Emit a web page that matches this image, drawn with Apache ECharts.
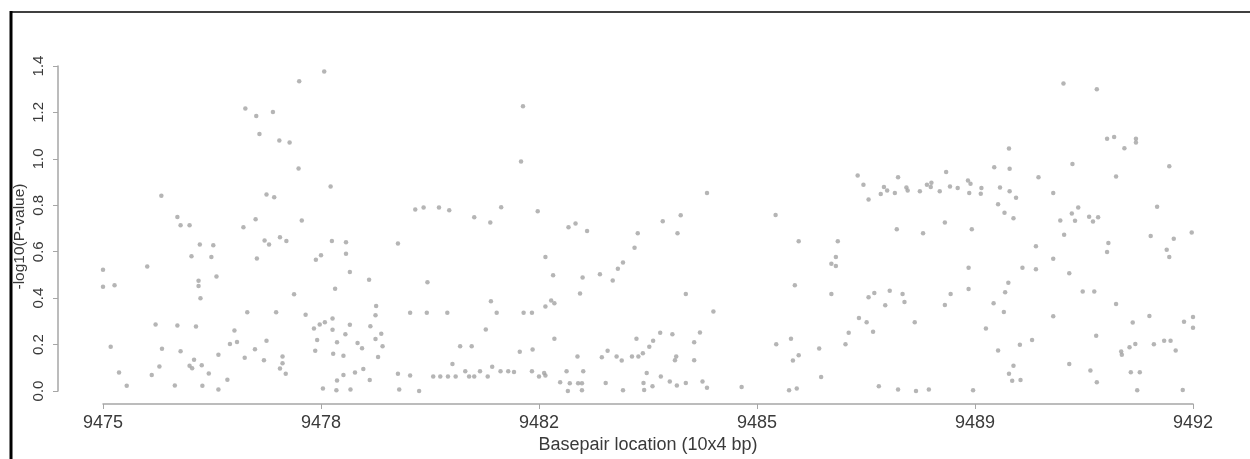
<!DOCTYPE html>
<html>
<head>
<meta charset="utf-8">
<script src="https://cdn.jsdelivr.net/npm/echarts@6/dist/echarts.min.js"></script>
<style>html,body{margin:0;padding:0;background:#fff;}#c{width:1250px;height:459px;}</style>
</head>
<body>
<div id="c"></div>
<script>
// x: basepair location (10^4 bp units), y: -log10(P-value)
const basepair = [
9478.45,9478.06,9477.22,9477.39,9477.65,9477.44,9477.75,9477.91,9478.05,9478.55,
9475.91,9477.55,9477.67,9476.16,9476.21,9476.35,9477.38,9477.19,9478.10,9476.51,
9476.72,9476.38,9476.69,9477.52,9477.59,9477.76,9477.86,9477.40,9478.32,9478.40,
9478.57,9478.79,9478.79,9479.60,9475.00,9475.69,9475.00,9475.18,9476.49,9476.49,
9476.77,9476.52,9478.85,9479.15,9478.62,9477.98,9477.25,9477.70,9478.16,9475.82,
9476.16,9476.45,9477.05,9478.29,9478.38,9478.46,9478.58,9478.58,9478.85,9479.26,
9479.25,9479.17,9479.34,9479.25,9479.36,9478.78,9478.65,9478.97,9479.04,9478.34,
9478.31,9475.12,9475.92,9476.21,9476.98,9477.09,9477.55,9477.37,9476.80,9477.21,
9477.51,9477.80,9477.80,9477.76,9477.85,9476.42,9476.35,9476.39,9476.54,9476.65,
9475.88,9475.76,9475.25,9475.37,9476.12,9476.55,9476.80,9476.94,9478.59,9478.75,
9478.75,9478.65,9478.93,9479.06,9479.16,9478.43,9478.64,9478.86,9479.29,9479.60,
9479.62,
9481.55,9481.52,9479.87,9480.00,9480.24,9480.40,9480.79,9481.21,9481.04,9481.78,
9482.26,9482.37,9482.55,9481.90,9482.02,9482.48,9482.75,9482.44,9480.06,9481.05,
9481.99,9482.04,9481.90,9479.79,9480.05,9480.37,9481.14,9481.56,9481.69,9480.97,
9482.04,9480.57,9480.75,9481.50,9481.70,9482.40,9482.78,9480.45,9481.07,9480.65,
9480.88,9481.20,9481.32,9481.41,9481.69,9481.88,9482.23,9482.49,9479.79,9480.15,
9480.26,9480.38,9480.50,9480.71,9480.79,9481.00,9481.80,9481.90,9482.13,9482.28,
9482.41,9482.47,9479.93,9482.25,9482.47,
9484.42,9484.01,9483.73,9483.34,9483.96,9483.29,9483.11,9483.03,9482.95,9485.49,
9485.85,9485.79,9484.09,9484.52,9483.69,9483.88,9484.31,9483.32,9483.58,9483.52,
9484.22,9482.87,9483.01,9483.09,9483.25,9483.35,9483.42,9483.94,9483.92,9484.22,
9485.50,9485.73,9485.76,9485.85,9483.48,9483.70,9482.84,9483.11,9483.43,9483.44,
9483.57,9483.84,9483.95,9484.09,9484.35,9484.42,9484.96,9485.70,9485.82,
9489.13,9488.90,9489.14,9486.77,9486.86,9487.40,9487.18,9487.23,9487.13,9487.35,
9487.53,9487.55,9487.74,9487.85,9487.92,9487.91,9488.05,9488.15,9488.21,9488.33,
9488.49,9488.53,9488.51,9488.70,9488.69,9488.99,9489.14,9486.94,9488.96,9489.06,
9489.20,9487.38,9487.79,9488.13,9488.55,9486.46,9486.43,9486.36,9486.43,9488.50,
9489.12,9488.50,9486.36,9487.03,9487.27,9487.47,9486.94,9487.20,9487.50,9488.22,
9488.13,9489.07,9488.89,9489.05,9486.79,9486.91,9487.66,9486.63,9487.01,9486.58,
9486.17,9488.77,9488.96,9489.20,9489.13,9489.18,9486.20,9487.10,9487.40,9487.68,
9487.88,9488.57,
9489.98,9490.50,9490.66,9490.77,9490.93,9491.11,9491.11,9490.12,9491.63,9489.59,
9490.80,9489.24,9489.82,9490.21,9490.11,9491.44,9489.93,9490.16,9490.38,9490.52,
9490.44,9489.99,9491.34,9491.70,9491.98,9489.55,9490.68,9490.66,9491.59,9491.63,
9489.82,9489.34,9489.55,9490.07,9490.28,9490.46,9490.80,9489.82,9491.06,9491.32,
9491.86,9492.00,9492.00,9490.49,9489.49,9489.30,9490.88,9490.89,9491.01,9491.10,
9491.39,9491.55,9491.65,9491.73,9489.31,9490.07,9490.40,9490.50,9491.03,9491.17,
9491.13,9491.84
];
const logP = [
1.376,1.334,1.217,1.185,1.202,1.107,1.079,1.070,0.958,0.881,
0.841,0.846,0.835,0.750,0.714,0.714,0.740,0.705,0.734,0.631,
0.628,0.580,0.577,0.648,0.631,0.662,0.646,0.571,0.565,0.585,
0.646,0.641,0.591,0.635,0.522,0.536,0.449,0.456,0.475,0.452,
0.493,0.400,0.513,0.479,0.441,0.417,0.339,0.339,0.329,0.286,
0.282,0.278,0.261,0.269,0.286,0.296,0.312,0.264,0.285,0.366,
0.326,0.279,0.247,0.224,0.193,0.245,0.210,0.207,0.184,0.220,
0.173,0.191,0.182,0.171,0.203,0.211,0.216,0.180,0.156,0.143,
0.133,0.149,0.120,0.097,0.074,0.135,0.109,0.098,0.111,0.075,
0.106,0.069,0.080,0.023,0.024,0.023,0.007,0.048,0.160,0.152,
0.069,0.045,0.080,0.095,0.047,0.011,0.003,0.006,0.146,0.074,
0.007,
1.227,0.989,0.782,0.791,0.790,0.779,0.748,0.792,0.726,0.774,
0.705,0.722,0.689,0.577,0.499,0.489,0.503,0.420,0.469,0.387,
0.390,0.378,0.364,0.337,0.337,0.337,0.337,0.337,0.337,0.265,
0.225,0.193,0.193,0.169,0.179,0.149,0.145,0.116,0.105,0.085,
0.085,0.085,0.085,0.082,0.085,0.078,0.085,0.085,0.067,0.062,
0.062,0.062,0.062,0.062,0.062,0.062,0.062,0.067,0.038,0.033,
0.033,0.033,0.000,0.000,0.003,
0.853,0.757,0.731,0.680,0.680,0.617,0.554,0.527,0.476,0.758,
0.645,0.456,0.418,0.343,0.251,0.245,0.252,0.225,0.217,0.191,
0.210,0.173,0.149,0.131,0.149,0.149,0.163,0.149,0.132,0.132,
0.201,0.225,0.131,0.154,0.078,0.062,0.035,0.003,0.035,0.004,
0.021,0.041,0.024,0.035,0.041,0.014,0.017,0.003,0.011,
1.045,0.964,0.957,0.928,0.889,0.921,0.879,0.864,0.849,0.853,
0.877,0.864,0.860,0.889,0.897,0.879,0.860,0.943,0.881,0.875,
0.907,0.893,0.853,0.875,0.850,0.877,0.860,0.825,0.804,0.768,
0.744,0.697,0.680,0.726,0.697,0.645,0.577,0.548,0.539,0.531,
0.466,0.439,0.418,0.422,0.432,0.418,0.404,0.369,0.383,0.418,
0.371,0.425,0.378,0.340,0.315,0.296,0.296,0.251,0.255,0.201,
0.183,0.269,0.174,0.109,0.074,0.044,0.060,0.021,0.007,0.000,
0.007,0.003,
1.325,1.300,1.087,1.094,1.046,1.087,1.070,0.978,0.968,0.921,
0.924,0.832,0.853,0.790,0.765,0.794,0.734,0.733,0.751,0.748,
0.730,0.673,0.668,0.656,0.683,0.624,0.638,0.599,0.609,0.577,
0.570,0.531,0.524,0.507,0.429,0.429,0.375,0.322,0.295,0.323,
0.298,0.319,0.272,0.238,0.220,0.199,0.170,0.156,0.188,0.203,
0.201,0.216,0.216,0.174,0.047,0.116,0.088,0.038,0.081,0.081,
0.003,0.004
];
const xTickValues = [9475, 9478.4, 9481.8, 9485.2, 9488.6, 9492];
const xTickLabels = ['9475', '9478', '9482', '9485', '9489', '9492'];
const yTickLabels = ['0.0', '0.2', '0.4', '0.6', '0.8', '1.0', '1.2', '1.4'];

const points = basepair.map((x, i) => [x, logP[i]]);
const chart = echarts.init(document.getElementById('c'), null, {renderer: 'canvas'});
const axisGray = '#a6a6a6';
const textCol = '#3a3a3a';
const font = 'Liberation Sans, Arial, sans-serif';
chart.setOption({
  backgroundColor: '#fff',
  animation: false,
  grid: {left: 103, right: 57, top: 66, bottom: 64},
  xAxis: {
    type: 'value', min: 9475, max: 9492, offset: 13,
    name: 'Basepair location (10x4 bp)', nameLocation: 'middle', nameGap: 32,
    nameMoveOverlap: false,
    nameTextStyle: {fontSize: 18, color: textCol, fontFamily: font},
    axisLine: {show: true, onZero: false, lineStyle: {color: axisGray, width: 1.5}},
    axisTick: {show: true, length: 5, customValues: xTickValues, lineStyle: {color: axisGray}},
    axisLabel: {
      customValues: xTickValues, fontSize: 18, color: textCol, fontFamily: font, margin: 10,
      formatter: v => { const i = xTickValues.findIndex(t => Math.abs(t - v) < 1e-6); return i >= 0 ? xTickLabels[i] : ''; }
    },
    splitLine: {show: false}
  },
  yAxis: {
    type: 'value', min: 0, max: 1.4, interval: 0.2, offset: 45,
    name: '-log10(P-value)', nameLocation: 'middle', nameRotate: 90, nameGap: 30,
    nameMoveOverlap: false,
    nameTextStyle: {fontSize: 15.5, color: textCol, fontFamily: font, padding: [0, 16, 0, 0]},
    axisLine: {show: true, onZero: false, lineStyle: {color: axisGray, width: 1.5}},
    axisTick: {show: true, length: 5, lineStyle: {color: axisGray}},
    axisLabel: {
      rotate: 90, fontSize: 15, color: textCol, fontFamily: font, margin: 12,
      formatter: v => yTickLabels[Math.round(v / 0.2)]
    },
    splitLine: {show: false}
  },
  graphic: [
    {type: 'line', shape: {x1: 10, y1: 12, x2: 1250, y2: 12}, style: {stroke: '#000', lineWidth: 1.5}},
    {type: 'line', shape: {x1: 11, y1: 11, x2: 11, y2: 459}, style: {stroke: '#000', lineWidth: 3}}
  ],
  series: [{
    type: 'scatter', data: points, symbol: 'circle', symbolSize: 4.5,
    itemStyle: {color: '#a3a3a3'}, clip: false
  }]
});
</script>
</body>
</html>
